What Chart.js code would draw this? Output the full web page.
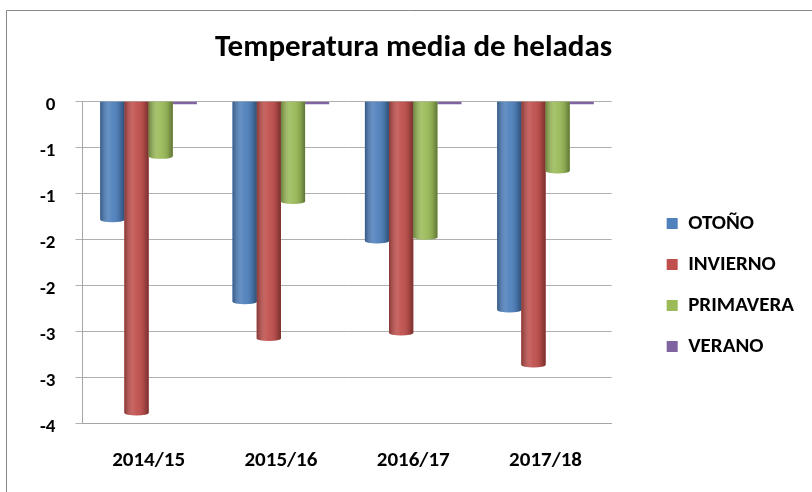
<!DOCTYPE html>
<html>
<head>
<meta charset="utf-8">
<script src="https://cdn.jsdelivr.net/npm/chart.js@4/dist/chart.umd.min.js"></script>
<style>
  html, body { margin: 0; padding: 0; background: #fff; }
  #wrap { width: 812px; height: 492px; }
</style>
</head>
<body>
<div id="wrap"><canvas id="chart" width="812" height="492"></canvas></div>
<script>
const categories = ["2014/15", "2015/16", "2016/17", "2017/18"];
const otono = [-1.29, -2.18, -1.52, -2.27];
const invierno = [-3.39, -2.58, -2.52, -2.87];
const primavera = [-0.6, -1.09, -1.48, -0.76];
const verano = [0, 0, 0, 0];
const yTickValues = [0, -0.5, -1, -1.5, -2, -2.5, -3, -3.5];
const yTickLabels = ["0", "-1", "-1", "-2", "-2", "-3", "-3", "-4"];

const FONT = "Carlito, Calibri, Lato, sans-serif";

// chart border like the excel frame (only top and left show)
const framePlugin = {
  id: "frame",
  beforeDraw(chart) {
    const c = chart.ctx;
    c.save();
    c.strokeStyle = "#868686";
    c.lineWidth = 1;
    c.beginPath();
    c.moveTo(6.5, chart.height);
    c.lineTo(6.5, 10.5);
    c.lineTo(chart.width, 10.5);
    c.stroke();
    c.restore();
  }
};

// nudge legend right (gap after plot) and title to the canvas centre
const nudgePlugin = {
  id: "nudge",
  afterLayout(chart) {
    const l = chart.legend;
    if (l) { l.left += 35; l.right += 35; }
    const t = chart.titleBlock;
    if (t) { t.left += 19; t.right += 19; }
  }
};

// fake cylinder look on every bar
const cylinderPlugin = {
  id: "cylinder",
  afterDatasetsDraw(chart) {
    const c = chart.ctx;
    chart.data.datasets.forEach((ds, di) => {
      chart.getDatasetMeta(di).data.forEach(bar => {
        const p = bar.getProps(["x", "y", "base", "width"], true);
        const left = p.x - p.width / 2;
        const top = Math.min(p.y, p.base);
        const bottom = Math.max(p.y, p.base);
        if (bottom - top < 4) return;
        c.save();
        c.beginPath();
        c.moveTo(left, top);
        c.lineTo(left + p.width, top);
        c.lineTo(left + p.width, bottom);
        c.ellipse(p.x, bottom, p.width / 2, 2.5, 0, 0, Math.PI);
        c.closePath();
        c.fillStyle = ds.backgroundColor;
        c.fill();
        const g = c.createLinearGradient(left, 0, left + p.width, 0);
        g.addColorStop(0, "rgba(0,0,0,0.30)");
        g.addColorStop(0.35, "rgba(255,255,255,0.12)");
        g.addColorStop(0.5, "rgba(255,255,255,0.05)");
        g.addColorStop(0.8, "rgba(0,0,0,0.12)");
        g.addColorStop(1, "rgba(0,0,0,0.38)");
        c.fillStyle = g;
        c.fill();
        c.restore();
      });
    });
  }
};

const ctx = document.getElementById("chart").getContext("2d");
new Chart(ctx, {
  type: "bar",
  data: {
    labels: categories,
    datasets: [
      { label: "OTOÑO", data: otono, backgroundColor: "#4F81BD" },
      { label: "INVIERNO", data: invierno, backgroundColor: "#C0504D" },
      { label: "PRIMAVERA", data: primavera, backgroundColor: "#9BBB59" },
      { label: "VERANO", data: verano, backgroundColor: "#8064A2", minBarLength: 3 }
    ]
  },
  options: {
    responsive: false,
    animation: false,
    layout: { padding: { left: 20, right: 43, top: 0, bottom: 16 } },
    datasets: {
      bar: { categoryPercentage: 0.73, barPercentage: 1.0, borderWidth: 0 }
    },
    scales: {
      x: {
        grid: { display: false, drawTicks: false },
        border: { display: true, color: "#a6a6a6" },
        ticks: { color: "#000", padding: 25, maxRotation: 0, minRotation: 0,
                 font: { family: FONT, size: 21, weight: "bold" } },
        afterFit(s) { s.height = 53; }
      },
      y: {
        min: -3.5,
        max: 0,
        afterBuildTicks(axis) { axis.ticks = yTickValues.map(v => ({ value: v })); },
        grid: { color: "#b0b0b0", tickLength: 7, drawTicks: true },
        border: { display: true, color: "#a6a6a6" },
        ticks: {
          color: "#000",
          padding: 20,
          labelOffset: 4,
          font: { family: FONT, size: 19, weight: "bold" },
          callback: v => yTickLabels[yTickValues.indexOf(v)]
        }
      }
    },
    plugins: {
      title: {
        display: true,
        text: "Temperatura media de heladas",
        color: "#000",
        font: { family: FONT, size: 31, weight: "bold" },
        padding: { top: 30, bottom: 34 }
      },
      legend: {
        position: "right",
        title: { display: true, text: " ", font: { size: 10 }, padding: { top: 82, bottom: 0 } },
        labels: {
          color: "#000",
          boxWidth: 11,
          boxHeight: 11,
          padding: 20,
          font: { family: FONT, size: 21, weight: "bold" }
        }
      },
      tooltip: { enabled: false }
    }
  },
  plugins: [framePlugin, nudgePlugin, cylinderPlugin]
});
</script>
</body>
</html>
